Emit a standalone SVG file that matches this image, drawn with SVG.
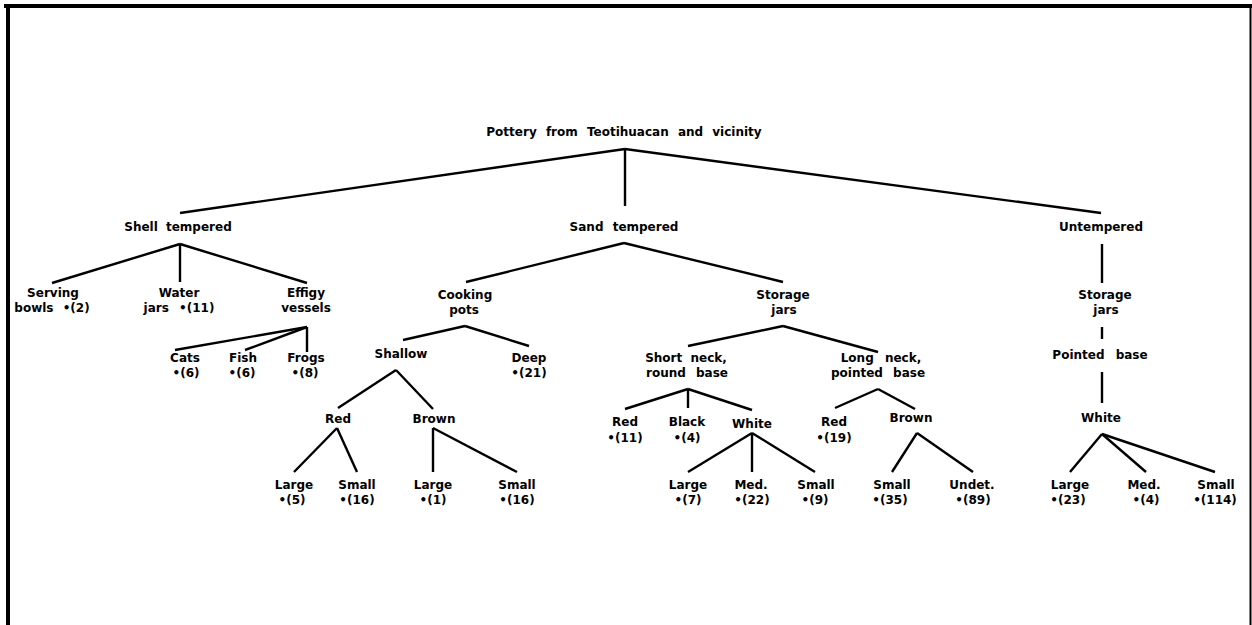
<svg xmlns="http://www.w3.org/2000/svg" width="1252" height="625" viewBox="0 0 1252 625">
<style>
text{font-family:"DejaVu Sans","Liberation Sans",sans-serif;font-weight:bold;font-size:12px;fill:#000;text-anchor:middle}
.c line{stroke:#000;stroke-width:2.4;stroke-linecap:butt}
.b{stroke:#000;fill:none}
</style>
<rect width="1252" height="625" fill="#fff"/>
<g id="frame">
<line class="b" x1="4" y1="6" x2="1252" y2="6" stroke-width="4"/>
<line class="b" x1="8" y1="4" x2="8" y2="625" stroke-width="4"/>
<line class="b" x1="1250.5" y1="4" x2="1250.5" y2="625" stroke-width="2"/>
</g>
<g class="c" id="connectors">
<line x1="625" y1="149" x2="180" y2="213"/>
<line x1="625" y1="149" x2="625" y2="206"/>
<line x1="625" y1="149" x2="1101" y2="213"/>
<line x1="180" y1="244" x2="52" y2="283"/>
<line x1="180" y1="244" x2="180" y2="282"/>
<line x1="180" y1="244" x2="307" y2="283"/>
<line x1="307" y1="327" x2="175" y2="350"/>
<line x1="307" y1="327" x2="245" y2="350"/>
<line x1="307" y1="327" x2="307" y2="352"/>
<line x1="624" y1="243" x2="466" y2="282"/>
<line x1="624" y1="243" x2="783" y2="282"/>
<line x1="465" y1="326" x2="403" y2="340"/>
<line x1="465" y1="326" x2="529" y2="346"/>
<line x1="396" y1="370" x2="338" y2="408"/>
<line x1="396" y1="370" x2="433" y2="409"/>
<line x1="337" y1="428" x2="294" y2="472"/>
<line x1="337" y1="428" x2="357" y2="472"/>
<line x1="433" y1="428" x2="433" y2="472"/>
<line x1="433" y1="428" x2="517" y2="472"/>
<line x1="783" y1="326" x2="688" y2="346"/>
<line x1="783" y1="326" x2="878" y2="352"/>
<line x1="688" y1="389" x2="625" y2="409"/>
<line x1="688" y1="389" x2="688" y2="408"/>
<line x1="688" y1="389" x2="752" y2="410"/>
<line x1="752" y1="433" x2="688" y2="472"/>
<line x1="752" y1="433" x2="752" y2="472"/>
<line x1="752" y1="433" x2="815" y2="472"/>
<line x1="878" y1="389" x2="835" y2="408"/>
<line x1="878" y1="389" x2="915" y2="409"/>
<line x1="917" y1="433" x2="892" y2="472"/>
<line x1="917" y1="433" x2="973" y2="472"/>
<line x1="1102" y1="244" x2="1102" y2="283"/>
<line x1="1102" y1="327" x2="1102" y2="339"/>
<line x1="1102" y1="372" x2="1102" y2="403"/>
<line x1="1102" y1="434" x2="1070" y2="472"/>
<line x1="1102" y1="434" x2="1146" y2="472"/>
<line x1="1102" y1="434" x2="1215" y2="472"/>
</g>
<g id="root"><text x="624" y="136" word-spacing="5">Pottery from Teotihuacan and vicinity</text></g>
<g id="shell"><text x="178" y="231" word-spacing="4">Shell tempered</text></g>
<g id="sand"><text x="624" y="231" word-spacing="5">Sand tempered</text></g>
<g id="untempered"><text x="1101" y="231">Untempered</text></g>
<g id="serving"><text x="53" y="297">Serving</text><text x="52" y="312" word-spacing="5">bowls •(2)</text></g>
<g id="water"><text x="179" y="297">Water</text><text x="179" y="312" word-spacing="6">jars •(11)</text></g>
<g id="effigy"><text x="306" y="297">Effigy</text><text x="306" y="312">vessels</text></g>
<g id="cats"><text x="185" y="362">Cats</text><text x="186" y="377">•(6)</text></g>
<g id="fish"><text x="243" y="362">Fish</text><text x="242" y="377">•(6)</text></g>
<g id="frogs"><text x="306" y="362">Frogs</text><text x="305" y="377">•(8)</text></g>
<g id="cooking"><text x="465" y="299">Cooking</text><text x="464" y="314">pots</text></g>
<g id="storage"><text x="783" y="299">Storage</text><text x="784" y="314">jars</text></g>
<g id="shallow"><text x="401" y="358">Shallow</text></g>
<g id="deep"><text x="529" y="362">Deep</text><text x="529" y="377">•(21)</text></g>
<g id="s-red"><text x="338" y="423">Red</text></g>
<g id="s-brown"><text x="434" y="423">Brown</text></g>
<g id="sr-large"><text x="294" y="489">Large</text><text x="292" y="504">•(5)</text></g>
<g id="sr-small"><text x="357" y="489">Small</text><text x="357" y="504">•(16)</text></g>
<g id="sb-large"><text x="433" y="489">Large</text><text x="433" y="504">•(1)</text></g>
<g id="sb-small"><text x="517" y="489">Small</text><text x="517" y="504">•(16)</text></g>
<g id="short"><text x="686" y="362" word-spacing="4">Short neck,</text><text x="687" y="377" word-spacing="6">round base</text></g>
<g id="long"><text x="881" y="362" word-spacing="7">Long neck,</text><text x="878" y="377" word-spacing="6">pointed base</text></g>
<g id="sn-red"><text x="625" y="426">Red</text><text x="625" y="442">•(11)</text></g>
<g id="sn-black"><text x="687" y="426">Black</text><text x="687" y="442">•(4)</text></g>
<g id="sn-white"><text x="752" y="428">White</text></g>
<g id="w-large"><text x="688" y="489">Large</text><text x="688" y="504">•(7)</text></g>
<g id="w-med"><text x="751" y="489">Med.</text><text x="752" y="504">•(22)</text></g>
<g id="w-small"><text x="816" y="489">Small</text><text x="815" y="504">•(9)</text></g>
<g id="ln-red"><text x="834" y="426">Red</text><text x="834" y="442">•(19)</text></g>
<g id="ln-brown"><text x="911" y="422">Brown</text></g>
<g id="lb-small"><text x="892" y="489">Small</text><text x="890" y="504">•(35)</text></g>
<g id="lb-undet"><text x="972" y="489">Undet.</text><text x="973" y="504">•(89)</text></g>
<g id="u-storage"><text x="1105" y="299">Storage</text><text x="1106" y="314">jars</text></g>
<g id="u-pointed"><text x="1100" y="359" word-spacing="7">Pointed base</text></g>
<g id="u-white"><text x="1101" y="422">White</text></g>
<g id="u-large"><text x="1070" y="489">Large</text><text x="1068" y="504">•(23)</text></g>
<g id="u-med"><text x="1144" y="489">Med.</text><text x="1146" y="504">•(4)</text></g>
<g id="u-small"><text x="1216" y="489">Small</text><text x="1215" y="504">•(114)</text></g>
</svg>
